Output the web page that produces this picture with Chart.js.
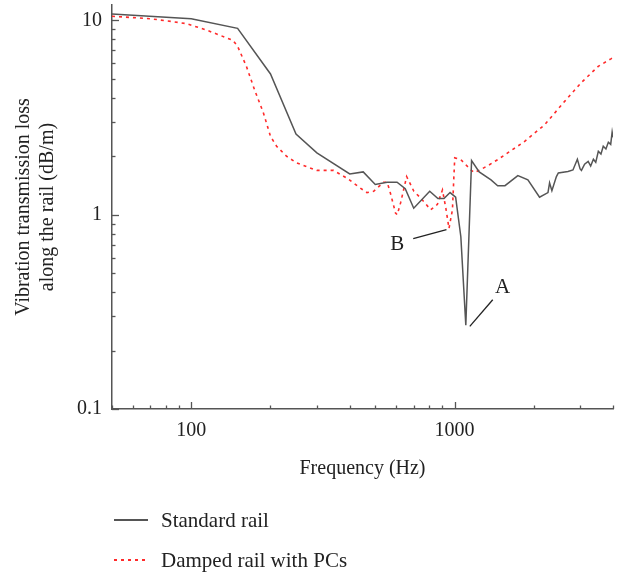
<!DOCTYPE html>
<html>
<head>
<meta charset="utf-8">
<script src="https://cdn.jsdelivr.net/npm/chart.js@4"></script>
<style>
  body { margin: 0; background: #fff; }
  #wrap { position: relative; width: 621px; height: 573px; }
  #wrap canvas { position: absolute; left: 0; top: 0; }
  .legend { position: absolute; left: 114px; top: 0; font: 21px "Liberation Serif", serif; color: #222; }
  .legend .row { position: absolute; left: 0; height: 24px; white-space: nowrap; }
  .legend .swatch { position: absolute; left: 0; top: 11px; width: 34px; height: 1.5px; }
  .legend .text { position: absolute; left: 47px; top: 0; line-height: 24px; }
</style>
</head>
<body>
<div id="wrap">
  <canvas id="chart" width="621" height="573"></canvas>
  <div class="legend">
    <div class="row" style="top:508px"><div class="swatch" style="background:#555"></div><div class="text">Standard rail</div></div>
    <div class="row" style="top:548px"><div class="swatch" style="background:repeating-linear-gradient(to right, #ff2a2a 0 3px, transparent 3px 7px)"></div><div class="text">Damped rail with PCs</div></div>
  </div>
</div>
<script>
// standard rail (solid grey)
const stdFreq = [50, 100, 150, 200, 250, 300, 400, 450, 500, 555, 605, 650, 700, 805, 865, 912, 962, 1010, 1057, 1104, 1161, 1241, 1376, 1459, 1555, 1740, 1900, 2104, 2265, 2297, 2344, 2438, 2480, 2698, 2818, 2929, 3000, 3035, 3120, 3219, 3290, 3370, 3440, 3518, 3600, 3673, 3760, 3840, 3920, 3970, 4000];
const stdLoss = [10.8, 10.2, 9.1, 5.3, 2.6, 2.08, 1.62, 1.66, 1.43, 1.47, 1.47, 1.36, 1.08, 1.32, 1.21, 1.21, 1.30, 1.23, 0.77, 0.27, 1.90, 1.66, 1.51, 1.41, 1.41, 1.59, 1.51, 1.23, 1.30, 1.46, 1.33, 1.57, 1.64, 1.67, 1.70, 1.93, 1.72, 1.69, 1.82, 1.88, 1.78, 1.93, 1.86, 2.12, 2.05, 2.25, 2.18, 2.36, 2.30, 2.66, 2.5];

// damped rail with PCs (red dotted)
const dampFreq = [50, 70, 85, 96, 114, 128, 144, 150, 162, 174, 188, 200, 211, 230, 251, 300, 347, 391, 439, 465, 493, 538, 555, 571, 597, 606, 624, 658, 701, 743, 812, 861, 900, 927, 953, 982, 1002, 1057, 1154, 1189, 1250, 1350, 1459, 1592, 1844, 2198, 2620, 3035, 3515, 3928, 4000];
const dampLoss = [10.5, 10.2, 9.85, 9.62, 8.93, 8.4, 7.9, 7.36, 5.8, 4.39, 3.34, 2.53, 2.25, 2.0, 1.85, 1.69, 1.69, 1.54, 1.37, 1.30, 1.32, 1.47, 1.47, 1.29, 1.02, 1.0, 1.15, 1.57, 1.32, 1.22, 1.06, 1.13, 1.34, 1.08, 0.85, 1.06, 1.96, 1.92, 1.70, 1.65, 1.70, 1.80, 1.92, 2.08, 2.38, 2.90, 3.83, 4.79, 5.8, 6.34, 6.45];

const xTicks = [50, 60, 70, 80, 90, 100, 200, 300, 400, 500, 600, 700, 800, 900, 1000, 2000, 3000, 4000];
const xLabels = [100, 1000];
const yTicks = [0.1, 0.2, 0.3, 0.4, 0.5, 0.6, 0.7, 0.8, 0.9, 1, 2, 3, 4, 5, 6, 7, 8, 9, 10];
const yLabels = [0.1, 1, 10];

const notes = [
  { label: "B", at: [606, 0.70], from: [697, 0.753], to: [932, 0.837] },
  { label: "A", at: [1524, 0.42], from: [1143, 0.266], to: [1397, 0.365] }
];

const FONT = "'Liberation Serif', serif";
const AXIS = "#555";

function isMajor(v) {
  const l = Math.log10(v);
  return Math.abs(l - Math.round(l)) < 1e-9;
}

// ticks pointing into the plot, major ones longer
const innerTicks = {
  id: "innerTicks",
  afterDraw(chart) {
    const c = chart.ctx;
    const { x, y } = chart.scales;
    c.save();
    c.strokeStyle = AXIS;
    c.lineWidth = 1.3;
    x.ticks.forEach(t => {
      const px = Math.round(x.getPixelForValue(t.value)) + 0.5;
      const len = isMajor(t.value) ? 7 : 3.5;
      c.beginPath();
      c.moveTo(px, y.bottom);
      c.lineTo(px, y.bottom - len);
      c.stroke();
    });
    y.ticks.forEach(t => {
      const py = Math.round(y.getPixelForValue(t.value)) + 0.5;
      const len = isMajor(t.value) ? 7 : 3.5;
      c.beginPath();
      c.moveTo(x.left, py);
      c.lineTo(x.left + len, py);
      c.stroke();
    });
    c.restore();
  }
};

const callouts = {
  id: "callouts",
  afterDatasetsDraw(chart) {
    const c = chart.ctx;
    const { x, y } = chart.scales;
    c.save();
    c.strokeStyle = "#222";
    c.fillStyle = "#222";
    c.lineWidth = 1.3;
    c.font = "21px " + FONT;
    c.textAlign = "center";
    c.textBaseline = "middle";
    notes.forEach(n => {
      c.beginPath();
      c.moveTo(x.getPixelForValue(n.from[0]), y.getPixelForValue(n.from[1]));
      c.lineTo(x.getPixelForValue(n.to[0]), y.getPixelForValue(n.to[1]));
      c.stroke();
      c.fillText(n.label, x.getPixelForValue(n.at[0]), y.getPixelForValue(n.at[1]));
    });
    c.restore();
  }
};

new Chart(document.getElementById("chart"), {
  type: "line",
  data: {
    datasets: [
      {
        label: "Standard rail",
        data: stdFreq.map((f, i) => ({ x: f, y: stdLoss[i] })),
        borderColor: "#555",
        borderWidth: 1.5,
        pointRadius: 0,
        tension: 0
      },
      {
        label: "Damped rail with PCs",
        data: dampFreq.map((f, i) => ({ x: f, y: dampLoss[i] })),
        borderColor: "#ff2a2a",
        borderWidth: 1.6,
        borderDash: [3, 4],
        pointRadius: 0,
        tension: 0
      }
    ]
  },
  options: {
    responsive: false,
    animation: false,
    devicePixelRatio: 1,
    layout: { padding: { top: 5, right: 8, left: 0, bottom: 92 } },
    plugins: {
      legend: { display: false },
      tooltip: { enabled: false }
    },
    scales: {
      x: {
        type: "logarithmic",
        min: 50,
        max: 4000,
        grid: { display: false, drawTicks: false },
        border: { display: true, color: AXIS, width: 1.5 },
        afterBuildTicks: s => { s.ticks = xTicks.map(v => ({ value: v })); },
        afterFit: s => { s.height = 72; s.paddingLeft = 0; s.paddingRight = 0; },
        ticks: {
          autoSkip: false,
          maxRotation: 0,
          padding: 10,
          color: "#222",
          font: { family: FONT, size: 20 },
          callback: v => xLabels.includes(v) ? String(v) : ""
        },
        title: {
          display: true,
          text: "Frequency (Hz)",
          color: "#222",
          font: { family: FONT, size: 20 },
          padding: { top: 0, bottom: 0 }
        }
      },
      y: {
        type: "logarithmic",
        min: 0.1,
        max: 12,
        grid: { display: false, drawTicks: false },
        border: { display: true, color: AXIS, width: 1.5 },
        afterBuildTicks: s => { s.ticks = yTicks.map(v => ({ value: v })); },
        afterFit: s => { s.width = 112; s.paddingTop = 0; s.paddingBottom = 0; },
        ticks: {
          autoSkip: false,
          padding: 10,
          color: "#222",
          font: { family: FONT, size: 20 },
          callback: v => yLabels.includes(v) ? String(v) : ""
        },
        title: {
          display: true,
          text: ["Vibration transmission loss", "along the rail (dB/m)"],
          color: "#222",
          font: { family: FONT, size: 20, lineHeight: 1.2 },
          padding: { top: 12, bottom: 0 }
        }
      }
    }
  },
  plugins: [innerTicks, callouts]
});
</script>
</body>
</html>
